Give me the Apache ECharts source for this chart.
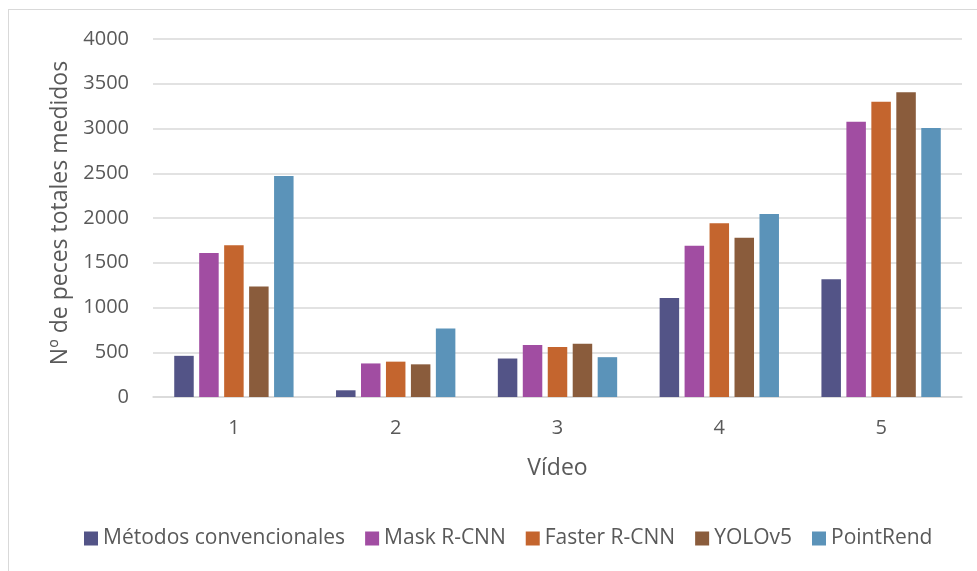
<!DOCTYPE html>
<html>
<head>
<meta charset="utf-8">
<script src="https://cdn.jsdelivr.net/npm/echarts@6/dist/echarts.min.js"></script>
<style>
  html, body { margin: 0; padding: 0; background: #fff; }
  #frame { position: absolute; left: 8px; top: 9px; width: 1000px; height: 600px; border: 1px solid #d9d9d9; box-sizing: border-box; }
  #chart { position: absolute; left: 0; top: 0; width: 977px; height: 571px; }
</style>
</head>
<body>
<div id="frame"></div>
<div id="chart"></div>
<script>
// Videos on the x axis
const categories = ['1', '2', '3', '4', '5'];

// Total fish counted per video, by method
const metodosConvencionales = [460, 75, 430, 1105, 1315];
const maskRCNN = [1610, 375, 580, 1690, 3075];
const fasterRCNN = [1695, 395, 560, 1940, 3300];
const yolov5 = [1235, 365, 595, 1780, 3405];
const pointRend = [2470, 765, 445, 2045, 3005];

const seriesNames = ['Métodos convencionales', 'Mask R-CNN', 'Faster R-CNN', 'YOLOv5', 'PointRend'];
const seriesValues = [metodosConvencionales, maskRCNN, fasterRCNN, yolov5, pointRend];
const seriesColors = ['#535487', '#A14DA2', '#C4652E', '#8A5C3C', '#5B93B9'];

const FONT = 'Open Sans';
const TEXT = '#595959';

const chart = echarts.init(document.getElementById('chart'), null, { renderer: 'canvas' });

chart.setOption({
  backgroundColor: 'transparent',
  animation: false,
  textStyle: { fontFamily: FONT, color: TEXT },
  grid: { left: 153, right: 15, top: 39, bottom: 174 },
  legend: {
    left: 79,
    top: 523,
    itemWidth: 14,
    itemHeight: 14,
    itemGap: 20,
    icon: 'rect',
    textStyle: { fontFamily: FONT, fontSize: 21, color: TEXT },
    data: seriesNames
  },
  xAxis: {
    type: 'category',
    data: categories,
    name: 'Vídeo',
    nameLocation: 'middle',
    nameGap: 60,
    nameTextStyle: { fontFamily: FONT, fontSize: 23, color: TEXT },
    axisLine: { lineStyle: { color: '#d9d9d9', width: 1.5 } },
    axisTick: { show: false },
    axisLabel: { margin: 21, fontFamily: FONT, fontSize: 20, color: TEXT }
  },
  yAxis: {
    type: 'value',
    min: 0,
    max: 4000,
    interval: 500,
    name: 'Nº de peces totales medidos',
    nameLocation: 'middle',
    nameGap: 81,
    nameTextStyle: { fontFamily: FONT, fontSize: 23, color: TEXT, padding: [0, 0, 0, 10] },
    axisLine: { show: false },
    axisTick: { show: false },
    axisLabel: { margin: 24, fontFamily: FONT, fontSize: 20, color: TEXT, formatter: v => String(v) },
    splitLine: { lineStyle: { color: '#d9d9d9', width: 1.5 } }
  },
  series: seriesNames.map((name, i) => ({
    name: name,
    type: 'bar',
    data: seriesValues[i],
    barWidth: 19.5,
    barGap: '28%',
    itemStyle: { color: seriesColors[i] }
  }))
});
</script>
</body>
</html>
